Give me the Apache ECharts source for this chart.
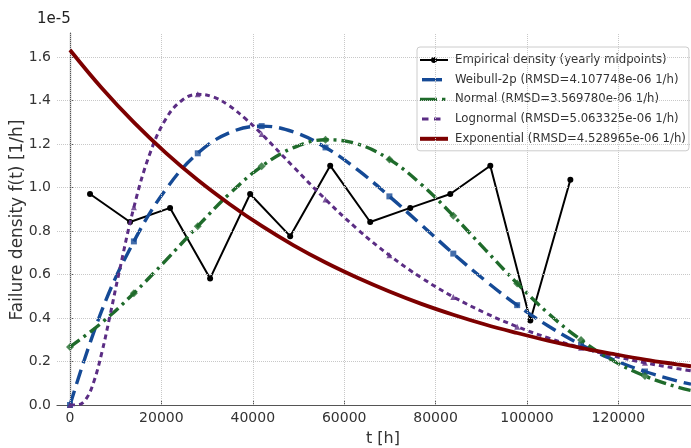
<!DOCTYPE html>
<html>
<head>
<meta charset="utf-8">
<script src="https://cdn.jsdelivr.net/npm/echarts@6/dist/echarts.min.js"></script>
<style>html,body{margin:0;padding:0;background:#fff}#c{width:691px;height:448px}</style>
</head>
<body>
<div id="c"></div>
<script>
// ---- data (density values in units of 1e-5 1/h) ----
const empT = [4380, 13140, 21900, 30660, 39420, 48180, 56940, 65700, 74460, 83220, 91980, 100740, 109500];
const empY = [0.970, 0.841, 0.906, 0.582, 0.970, 0.776, 1.100, 0.841, 0.906, 0.970, 1.100, 0.388, 1.035];

const fitT = [0, 6990, 13980, 20970, 27960, 34950, 41940, 48930, 55920, 62910, 69900,
              76890, 83880, 90870, 97860, 104850, 111840, 118830, 125820, 132810, 135900];
const weibullY = [0, 0.436, 0.752, 0.991, 1.157, 1.252, 1.282, 1.255, 1.184, 1.082, 0.959,
                  0.828, 0.696, 0.572, 0.459, 0.361, 0.277, 0.209, 0.154, 0.111, 0.096];
const normalY = [0.267, 0.379, 0.514, 0.665, 0.822, 0.972, 1.097, 1.183, 1.219, 1.200, 1.129,
                 1.014, 0.870, 0.714, 0.559, 0.418, 0.299, 0.204, 0.133, 0.083, 0.067];
const exponentialY = [1.632, 1.456, 1.299, 1.159, 1.034, 0.923, 0.823, 0.734, 0.655, 0.585, 0.522,
                      0.465, 0.415, 0.370, 0.331, 0.295, 0.263, 0.235, 0.209, 0.187, 0.178];

const lognT = [0, 1748, 3495, 5243, 6990, 8738, 10485, 13980, 17475, 20970, 24465, 27960, 31455,
               34950, 38445, 41940, 48930, 55920, 62910, 69900, 76890, 83880, 90870, 97860,
               104850, 111840, 118830, 125820, 132810, 135900];
const lognY = [0, 0.001, 0.027, 0.109, 0.243, 0.409, 0.584, 0.909, 1.155, 1.315, 1.400, 1.428, 1.415,
               1.374, 1.315, 1.246, 1.094, 0.945, 0.808, 0.688, 0.585, 0.497, 0.423, 0.360,
               0.307, 0.263, 0.226, 0.194, 0.168, 0.157];

const markerStep = 13980;
const xTicks = [0, 20000, 40000, 60000, 80000, 100000, 120000];
const yTicks = [0.0, 0.2, 0.4, 0.6, 0.8, 1.0, 1.2, 1.4, 1.6];

const names = {
  emp: 'Empirical density (yearly midpoints)',
  wei: 'Weibull-2p (RMSD=4.107748e-06 1/h)',
  nor: 'Normal (RMSD=3.569780e-06 1/h)',
  log: 'Lognormal (RMSD=5.063325e-06 1/h)',
  exp: 'Exponential (RMSD=4.528965e-06 1/h)'
};

// ---- build ----
const zip = (xs, ys) => xs.map((x, i) => [x, ys[i]]);
const marks = (xs, ys) => zip(xs, ys).filter(p => p[0] % markerStep === 0 && p[0] <= 130000);

const FONT = 'DejaVu Sans';
const C = { wei: '#154a96', nor: '#1f6b2b', log: '#5b2d84', exp: '#7d0000' };

const BOX = 'M0,0 M28,12 ';
const icons = {
  emp: BOX + 'M0,4.9 h28 v2.2 h-28 z M17,6 a3,3 0 1,1 -6,0 a3,3 0 1,1 6,0 z',
  wei: BOX + 'M2,4.3 h20 v3.4 h-20 z',
  nor: BOX + 'M0,4.3 h17 v3.4 h-17 z M22,4.3 h3.4 v3.4 h-3.4 z',
  log: BOX + 'M2,4.5 h6.5 v3 h-6.5 z M14,4.5 h6.5 v3 h-6.5 z',
  exp: BOX + 'M0,4 h28 v4 h-28 z'
};

const gridLines = [];
xTicks.forEach(v => gridLines.push({ xAxis: v }));
yTicks.filter(v => v > 0).forEach(v => gridLines.push({ yAxis: v }));

const chart = echarts.init(document.getElementById('c'), null, { renderer: 'canvas' });
chart.setOption({
  animation: false,
  backgroundColor: '#fff',
  textStyle: { fontFamily: FONT },
  grid: { left: 57, right: 0, top: 33, bottom: 43, containLabel: false },
  xAxis: {
    type: 'value', min: -2845, max: 135900,
    axisLine: { show: true, lineStyle: { color: '#555', width: 1.2 } },
    axisTick: { show: true, inside: true, length: 4, customValues: xTicks, lineStyle: { color: '#555' } },
    axisLabel: { customValues: xTicks, color: '#333', fontSize: 14, margin: 6, fontFamily: FONT,
                 formatter: v => String(v) },
    splitLine: { show: false }
  },
  yAxis: {
    type: 'value', min: 0, max: 1.71,
    axisLine: { show: true, lineStyle: { color: '#555', width: 1.2 } },
    axisTick: { show: true, inside: true, length: 4, customValues: yTicks, lineStyle: { color: '#555' } },
    axisLabel: { customValues: yTicks, color: '#333', fontSize: 14, margin: 6, fontFamily: FONT,
                 formatter: v => v.toFixed(1) },
    splitLine: { show: false }
  },
  legend: {
    orient: 'vertical', left: 417, top: 47,
    data: [
      { name: names.emp, icon: 'path://' + icons.emp },
      { name: names.wei, icon: 'path://' + icons.wei },
      { name: names.nor, icon: 'path://' + icons.nor },
      { name: names.log, icon: 'path://' + icons.log },
      { name: names.exp, icon: 'path://' + icons.exp }
    ],
    itemWidth: 28, itemHeight: 12, itemGap: 7.7,
    padding: [7, 3, 6, 3],
    backgroundColor: 'rgba(255,255,255,0.9)', borderColor: '#cccccc', borderWidth: 1, borderRadius: 3,
    textStyle: { fontSize: 11.7, color: '#333', fontFamily: FONT, padding: [0, 0, 0, 2] }
  },
  graphic: [
    { type: 'text', left: 37, top: 12, style: { text: '1e-5', fontSize: 15, fill: '#222', fontFamily: FONT } },
    { type: 'text', x: 18, y: 220, rotation: Math.PI / 2,
      style: { text: 'Failure density f(t) [1/h]', fontSize: 17, fill: '#333', fontFamily: FONT,
               align: 'center', verticalAlign: 'middle' } },
    { type: 'text', x: 383, y: 439,
      style: { text: 't [h]', fontSize: 16, fill: '#333', fontFamily: FONT,
               align: 'center', verticalAlign: 'middle' } }
  ],
  series: [
    { type: 'line', name: '_grid', data: [], z: 0, silent: true,
      markLine: { silent: true, symbol: ['none', 'none'], label: { show: false }, animation: false,
                  lineStyle: { type: 'dotted', color: '#c8c8c8', width: 1 }, data: gridLines } },
    { type: 'line', name: names.emp, data: zip(empT, empY), z: 2,
      symbol: 'circle', symbolSize: 6, showSymbol: true,
      lineStyle: { color: '#000', width: 2 }, itemStyle: { color: '#000', borderColor: '#000', borderWidth: 0 } },
    { type: 'line', name: names.wei, data: zip(fitT, weibullY), z: 3, smooth: 0.4,
      symbol: 'none', lineStyle: { color: C.wei, width: 3.4, type: [15, 7] }, itemStyle: { color: C.wei } },
    { type: 'scatter', data: marks(fitT, weibullY), z: 3, symbol: 'rect', symbolSize: 6,
      itemStyle: { color: C.wei }, silent: true },
    { type: 'line', name: names.nor, data: zip(fitT, normalY), z: 4, smooth: 0.4,
      symbol: 'none', lineStyle: { color: C.nor, width: 3.4, type: [12, 5, 3, 5] }, itemStyle: { color: C.nor } },
    { type: 'scatter', data: marks(fitT, normalY), z: 4, symbol: 'diamond', symbolSize: 8,
      itemStyle: { color: C.nor }, silent: true },
    { type: 'line', name: names.log, data: zip(lognT, lognY), z: 5, smooth: 0.4,
      symbol: 'none', lineStyle: { color: C.log, width: 3, type: [5, 4] }, itemStyle: { color: C.log } },
    { type: 'scatter', data: marks(lognT, lognY), z: 5, symbol: 'triangle', symbolSize: 6,
      itemStyle: { color: C.log }, silent: true },
    { type: 'line', name: names.exp, data: zip(fitT, exponentialY), z: 6, smooth: 0.4,
      symbol: 'none', lineStyle: { color: C.exp, width: 3.8 }, itemStyle: { color: C.exp } }
  ]
});
</script>
</body>
</html>
